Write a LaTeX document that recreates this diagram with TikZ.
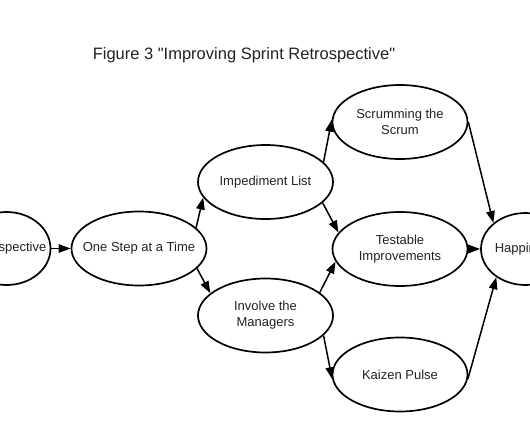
\documentclass[tikz,border=0pt]{standalone}
\usepackage{fontspec}
\setmainfont{Liberation Sans}[Ligatures=TeXOff]
\usetikzlibrary{shapes.geometric,arrows.meta}
\definecolor{txt}{HTML}{222222}
\tikzset{
  blob/.style={draw=black, line width=1.7pt, ellipse, inner sep=0pt, minimum width=135pt, minimum height=74pt},
  smallblob/.style={blob, minimum width=88pt, minimum height=73pt},
  lbl/.style={text=txt, align=center, font=\fontsize{13}{16}\selectfont},
  conn/.style={line width=1.5pt, -{Triangle[length=12pt,width=8.5pt]}},
}
\begin{document}
\begin{tikzpicture}[x=1pt,y=-1pt]
\path[use as bounding box] (0,0) rectangle (530,442);
\node[text=txt, font=\fontsize{16.5}{19}\selectfont] (title) at (244,55) {Figure 3 "Improving Sprint Retrospective"};

\node[smallblob] (R) at (6.5,248.5) {};
\node[blob] (O) at (139,248.5) {};
\node[blob] (I) at (265.5,182) {};
\node[blob] (M) at (265.5,315.5) {};
\node[blob] (S) at (400,122) {};
\node[blob] (T) at (400,249) {};
\node[blob] (K) at (400,374.5) {};
\node[smallblob, minimum width=89pt, minimum height=72pt] (H) at (525.5,249) {};

\node[lbl] (Rt) at (R) {Retrospective};
\node[lbl] (Ot) at (O) {One Step at a Time};
\node[lbl] (It) at (I) {Impediment List};
\node[lbl] (Mt) at (M) {Involve the\\Managers};
\node[lbl] (St) at (S) {Scrumming the\\Scrum};
\node[lbl] (Tt) at (T) {Testable\\Improvements};
\node[lbl] (Kt) at (K) {Kaizen Pulse};
\node[lbl] (Ht) at (H) {Happiness};

\draw[conn] (R.east) -- (O.west);
\draw[conn] (O.20) -- (I.194.6);
\draw[conn] (O.-19.2) -- (M.158.1);
\draw[conn] (I.19.8) -- (S.178.3);
\draw[conn] (I.-20.7) -- (T.165.1);
\draw[conn] (M.23.3) -- (T.191.3);
\draw[conn] (M.-19) -- (K.184.7);
\draw[conn] (S.east) -- (H.141.3);
\draw[conn] (T.east) -- (H.west);
\draw[conn] (K.-4.8) -- (H.224.5);
\end{tikzpicture}
\end{document}
